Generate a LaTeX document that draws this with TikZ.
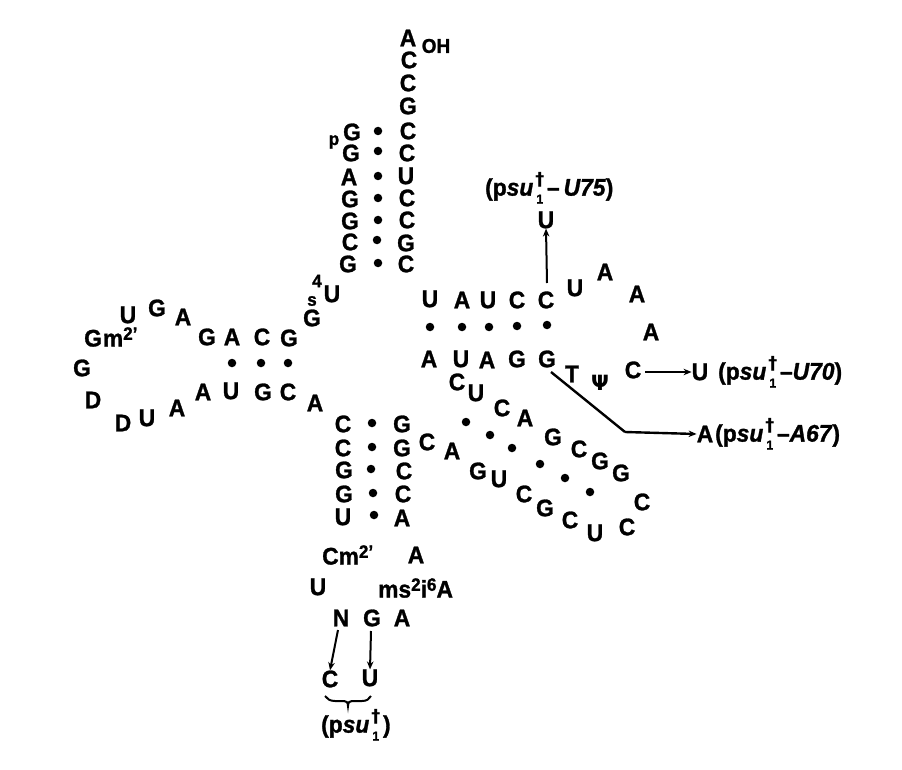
\documentclass[tikz,border=0pt]{standalone}
\usepackage{fontspec}
\setmainfont[FakeStretch=0.95,BoldFeatures={FakeBold=1.2},BoldItalicFeatures={FakeBold=1.2}]{Liberation Sans}
\newfontfamily\dejavu{DejaVu Sans}
\usetikzlibrary{arrows.meta}
\tikzset{
  nt/.style={inner sep=0pt,font=\fontsize{24}{24}\selectfont\bfseries},
  small/.style={inner sep=0pt,font=\fontsize{18}{18}\selectfont\bfseries},
  lab/.style={inner sep=0pt,font=\fontsize{24}{24}\selectfont\bfseries,anchor=west},
  bp/.style={circle,fill=black,inner sep=0pt,minimum size=8.5pt},
  arr/.style={line width=2pt,-{Stealth[length=8pt,width=6.5pt]}},
}
\newcommand{\psuone}{\textit{su}\hspace{0.27em}\makebox[0pt][c]{\raisebox{0.42em}{\dejavu\fontsize{18}{18}\selectfont\bfseries †}}\makebox[0pt][c]{\raisebox{-0.33em}{\fontsize{13}{13}\selectfont 1}}\hspace{0.3em}}
\newcommand{\supr}[1]{\raisebox{0.28em}{\fontsize{18}{18}\selectfont #1}}
\begin{document}
\begin{tikzpicture}[x=1pt,y=-1pt]
\useasboundingbox (0,0) rectangle (902,770);
\foreach \n/\x/\y/\t in {
 a1/408/38/A,a0/409/60/C,a2/408/83/C,a3/408/106/G,
 b1/352/132/G,b2/351/153/G,b3/349/177/A,b4/350/199/G,b5/350/221/G,b6/350/242/C,b7/348/264/G,
 c1/408/131/C,c2/407/153/C,c3/406/176/U,c4/407/198/C,c5/407/220/C,c6/406/243/G,c7/406/264/C,
 d1/332/294/U,d2/312/318/G,d3/289/338/G,d4/262/337/C,d5/232/337/A,d6/207/337/G,d7/183/317/A,d8/157/308/G,d9/128/315/U,
 e1/82/368/G,e2/93/400/D,e3/123/423/D,e4/147/418/U,e5/177/408/A,e6/203/392/A,e7/231/391/U,e8/263/392/G,e9/288/392/C,e10/315/403/A,
 f1/343/424/C,f2/343/448/C,f3/344/470/G,f4/344/494/G,f5/343/517/U,
 g1/402/424/G,g2/402/448/G,g3/404/471/C,g4/403/494/C,g5/402/518/A,
 h1/416/555/A,h2/318/587/U,h3/341/618/N,h4/372/618/G,h5/402/618/A,h6/330/679/C,h7/370/678/U,
 i1/427/442/C,i2/452/451/A,i3/478/471/G,i4/499/479/U,i5/524/494/C,i6/545/508/G,i7/570/520/C,i8/595/533/U,i9/627/527/C,i10/642/502/C,
 j1/621/473/G,j2/600/461/G,j3/579/449/C,j4/553/437/G,j5/525/418/A,j6/502/408/C,j7/476/393/U,j8/457/382/C,
 k1/429/359/A,k2/461/359/U,k3/487/360/A,k4/517/359/G,k5/547/359/G,
 l1/430/299/U,l2/462/300/A,l3/488/300/U,l4/517/300/C,l5/546/300/C,
 m1/575/288/U,m2/605/272/A,m3/637/294/A,m4/651/332/A,m5/633/370/C,
 n1/546/220/U,n2/700/372/U,n3/705/434/A,t1/572/374/T}
 {\node[nt] (\n) at (\x,\y) {\t};}
\foreach \n/\x/\y in {
 p1/378/131,p2/378/151,p3/378/176,p4/378/198,p5/378/220,p6/377/240,p7/378/263,
 q1/232/363,q2/261/363,q3/288/363,
 r1/372/423,r2/372/447,r3/371/469,r4/373/493,r5/374/515,
 s1/430/327,s2/462/327,s3/489/327,s4/517/326,s5/547/325,
 u1/466/422,u2/490/435,u3/512/448,u4/540/464,u5/565/478,u6/590/492}
 {\node[bp] (\n) at (\x,\y) {};}
\node[small,font=\fontsize{20}{20}\selectfont\bfseries] (oh) at (436,46) {OH};
\node[small] (pp) at (334,142) {p};
\node[small] (four) at (317,281) {4};
\node[small] (ess) at (312,301) {s};
\node[nt,anchor=west] (gm) at (84,337) {G\hspace{1pt}m\supr{2'}};
\node[nt,anchor=west] (cm) at (322,555) {Cm\supr{2'}};
\node[nt,anchor=west] (ms) at (378,588) {ms\supr{2}i\supr{6}A};
\node[nt,font=\dejavu\fontsize{21}{21}\selectfont\bfseries] (psi) at (600,383) {Ψ};
\node[lab] (l75) at (485,188) {(p\psuone–\,\textit{U75})};
\node[lab] (l70) at (718,372) {(p\psuone–\textit{U70})};
\node[lab] (l67) at (715,434) {(p\psuone–\textit{A67})};
\node[lab] (lb) at (321,725) {(p\psuone)};
\coordinate (arrC) at (547,283);
\coordinate (bendp) at (625,432);
\coordinate (g1s) at (551,372);
\coordinate (arrN) at (338,630);
\coordinate (arrG) at (371,631);
\coordinate (arrCe) at (645,372);
\draw[arr] (arrC) -- (n1.south);
\draw[arr] (arrCe) -- (n2.west);
\draw[line width=2.4pt] (g1s) -- (bendp);
\draw[arr,line width=2.4pt] (bendp) -- (n3.west);
\draw[arr] (arrN) -- (h6.north);
\draw[arr] (arrG) -- (h7.north);
\coordinate (bl) at (325,696);
\coordinate (br) at (371,696);
\coordinate (bt) at (348,706);
\draw[line width=2pt] (bl) .. controls (327,699) and (330,701) .. (335,701) -- (344,701) .. controls (346,701) and (348,702) .. (bt) .. controls (348,702) and (350,701) .. (352,701) -- (362,701) .. controls (367,701) and (369,699) .. (br);
\end{tikzpicture}
\end{document}
